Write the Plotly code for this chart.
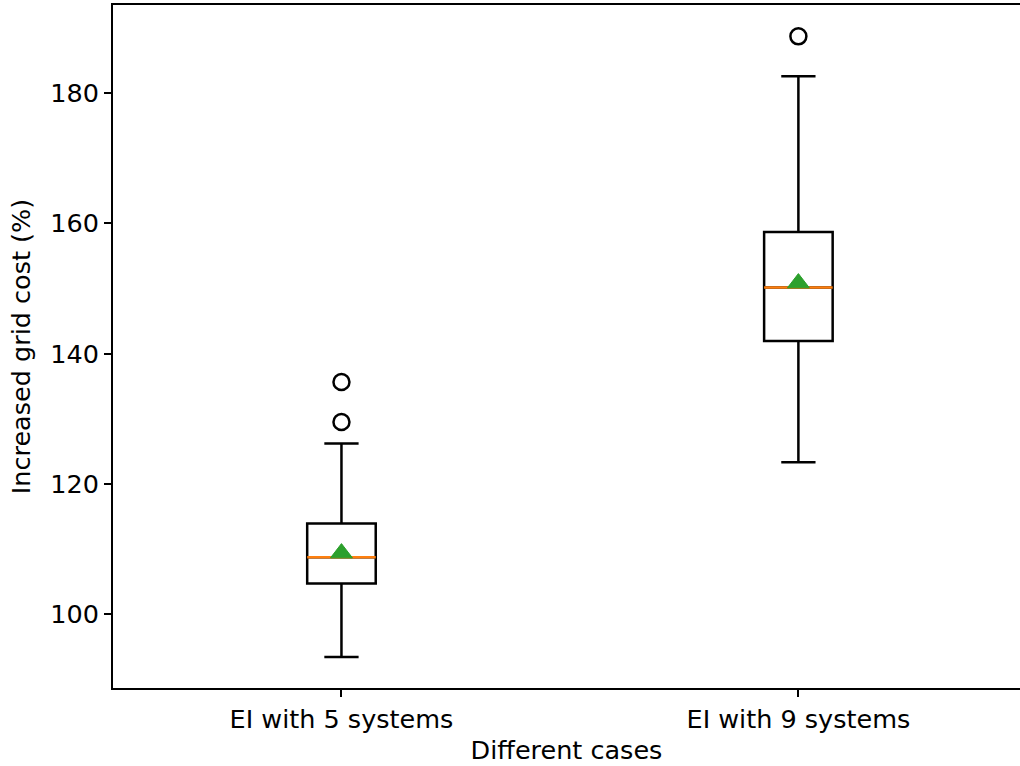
import plotly.graph_objects as go

# ---- data ----
cases = ["EI with 5 systems", "EI with 9 systems"]
positions = [1, 2]
q1 = [104.71, 141.94]
median = [108.75, 150.14]
q3 = [113.92, 158.67]
lower_whisker = [93.45, 123.33]
upper_whisker = [126.20, 182.57]
means = [109.39, 150.83]
outliers = [[129.51, 135.65], [188.70]]

y_ticks = [100, 120, 140, 160, 180]

# ---- style ----
BOX_W = 0.15
FONT = "DejaVu Sans"
FS = 25.5

fig = go.Figure()

for i, pos in enumerate(positions):
    fig.add_trace(go.Box(
        x=[pos], q1=[q1[i]], median=[median[i]], q3=[q3[i]],
        lowerfence=[lower_whisker[i]], upperfence=[upper_whisker[i]],
        width=BOX_W, whiskerwidth=0.5,
        fillcolor="rgba(0,0,0,0)",
        line=dict(color="black", width=2.5),
        boxpoints=False, showlegend=False, hoverinfo="skip",
    ))
    # orange median line
    fig.add_trace(go.Scatter(
        x=[pos - BOX_W / 2, pos + BOX_W / 2], y=[median[i], median[i]],
        mode="lines", line=dict(color="#ff7f0e", width=2.5),
        showlegend=False, hoverinfo="skip",
    ))
    # outliers
    fig.add_trace(go.Scatter(
        x=[pos] * len(outliers[i]), y=outliers[i], mode="markers",
        marker=dict(symbol="circle-open", size=16, color="black",
                    line=dict(width=2.5, color="black")),
        showlegend=False, hoverinfo="skip",
    ))
    # mean triangle
    fig.add_trace(go.Scatter(
        x=[pos], y=[means[i]], mode="markers",
        marker=dict(symbol="triangle-up", size=19, color="#2ca02c",
                    line=dict(width=1, color="#2ca02c")),
        showlegend=False, hoverinfo="skip",
    ))

fig.update_layout(
    width=1020, height=766,
    margin=dict(l=113, r=0, t=5, b=78),
    paper_bgcolor="white", plot_bgcolor="white",
    font=dict(family=FONT, size=FS, color="black"),
    xaxis=dict(
        range=[0.5, 2.485], tickmode="array", tickvals=positions, ticktext=cases,
        showgrid=False, zeroline=False,
        showline=True, mirror=True, linecolor="black", linewidth=2,
        ticks="outside", ticklen=7, tickwidth=2, tickcolor="black",
        tickfont=dict(size=FS),
        title=dict(text="Different cases", standoff=9, font=dict(size=FS)),
    ),
    yaxis=dict(
        range=[88.69, 193.51], tickmode="array", tickvals=y_ticks,
        showgrid=False, zeroline=False,
        showline=True, mirror=False, linecolor="black", linewidth=2,
        ticks="outside", ticklen=7, tickwidth=2, tickcolor="black",
        tickfont=dict(size=FS),
        title=dict(text="Increased grid cost (%)", standoff=12, font=dict(size=FS)),
    ),
)

fig.write_html("out.html")
